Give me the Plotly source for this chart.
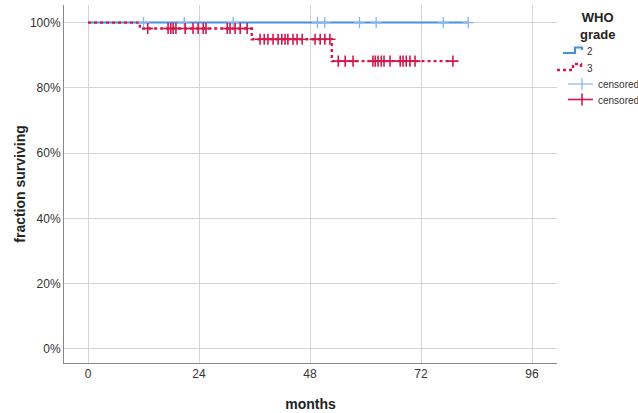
import numpy as np
import plotly.graph_objects as go

# Kaplan-Meier steps
g2_time = [0, 82.2]
g2_surv = [1.0, 1.0]
g2_censored = [12.0, 20.8, 31.4, 49.6, 51.2, 58.7, 62.3, 76.8, 82.2]

g3_time = [0, 11.2, 35.4, 52.7, 78.8]
g3_surv = [1.0, 0.982, 0.949, 0.882, 0.882]
g3_censored = [12.9, 17.3, 17.9, 18.4, 19.0, 21.0, 22.7, 23.8, 24.9, 25.5,
               30.1, 30.7, 31.8, 32.9, 34.4,
               37.2, 38.1, 38.9, 40.0, 41.1, 41.9, 42.6, 43.2, 44.3, 45.2,
               46.3, 49.1, 50.2, 51.2, 52.3,
               54.1, 55.6, 57.3, 61.6, 62.1, 62.7, 63.4, 64.0, 65.3, 67.5,
               68.1, 68.8, 69.6, 70.7, 78.9]

x_ticks = [0, 24, 48, 72, 96]
y_ticks = [0, 0.2, 0.4, 0.6, 0.8, 1.0]

legend_labels = ["2", "3", "censored", "censored"]

BLUE = "#4a8fdc"
BLUE_LIGHT = "#86b4ea"
RED = "#d4184c"

W, H = 638, 413
L, R, T, B = 64, 81, 5, 50
PW, PH = W - L - R, H - T - B


def step_value(times, surv, t):
    # value of the step function at time t
    idx = np.searchsorted(times, t, side="right") - 1
    return surv[idx]


def px(x, y):
    # pixel position -> paper coords (for the hand-made legend)
    return (x - L) / PW, 1 - (y - T) / PH


def path(points):
    pts = [px(x, y) for x, y in points]
    return "M" + " L".join(f"{a:.4f},{b:.4f}" for a, b in pts)


fig = go.Figure()

fig.add_trace(go.Scatter(x=g2_time, y=g2_surv, mode="lines", name="2",
                         line=dict(color=BLUE, width=2, shape="hv")))
fig.add_trace(go.Scatter(x=g3_time, y=g3_surv, mode="lines", name="3",
                         line=dict(color=RED, width=2.4, shape="hv", dash="dot")))
fig.add_trace(go.Scatter(
    x=g2_censored, y=[step_value(g2_time, g2_surv, t) for t in g2_censored],
    mode="markers", name="censored",
    marker=dict(symbol="cross-thin", size=8, line=dict(color=BLUE_LIGHT, width=1.3))))
fig.add_trace(go.Scatter(
    x=g3_censored, y=[step_value(g3_time, g3_surv, t) for t in g3_censored],
    mode="markers", name="censored",
    marker=dict(symbol="cross-thin", size=8, line=dict(color=RED, width=1.6))))

# legend drawn by hand (SPSS style step icons, tighter rows)
shapes = []
shapes.append(dict(type="path", xref="paper", yref="paper",
                   path=path([(563, 53), (575, 53), (575, 47.5), (582, 47.5), (582, 50)]),
                   line=dict(color=BLUE, width=2.2)))
shapes.append(dict(type="path", xref="paper", yref="paper",
                   path=path([(557, 70), (573, 70), (573, 64), (581, 64), (581, 67.5)]),
                   line=dict(color=RED, width=2.4, dash="dot")))
for cy, col, lw in [(84, BLUE_LIGHT, 1.2), (99.5, RED, 1.6)]:
    x0, y0 = px(568, cy)
    x1, y1 = px(593, cy)
    shapes.append(dict(type="line", xref="paper", yref="paper", x0=x0, y0=y0, x1=x1, y1=y1,
                       line=dict(color=col, width=lw)))
    x0, y0 = px(582, cy - 6)
    x1, y1 = px(582, cy + 6)
    shapes.append(dict(type="line", xref="paper", yref="paper", x0=x0, y0=y0, x1=x1, y1=y1,
                       line=dict(color=col, width=lw)))

annotations = []
tx, ty = px(597, 26)
annotations.append(dict(text="<b>WHO<br>grade</b>", xref="paper", yref="paper", x=tx, y=ty,
                        xanchor="center", yanchor="middle", showarrow=False,
                        font=dict(size=13, color="#222222")))
for lab, (lx, ly) in zip(legend_labels, [(585, 51.5), (585, 68), (596, 84.5), (596, 100)]):
    ax, ay = px(lx, ly)
    annotations.append(dict(text=lab, xref="paper", yref="paper", x=ax, y=ay,
                            xanchor="left", yanchor="middle", showarrow=False,
                            font=dict(size=10, color="#333333")))

fig.update_layout(
    width=W, height=H,
    margin=dict(l=L, r=R, t=T, b=B, autoexpand=False),
    plot_bgcolor="white", paper_bgcolor="white",
    font=dict(family="Liberation Sans, Arial, sans-serif", size=12, color="#333333"),
    showlegend=False,
    shapes=shapes,
    annotations=annotations,
)

fig.update_xaxes(
    range=[-5.2, 101.4], tickvals=x_ticks, ticks="", automargin=False,
    showgrid=True, gridcolor="#d4d4d4", gridwidth=1,
    showline=True, linecolor="#888888", linewidth=1, zeroline=False,
    title=dict(text="<b>months</b>", font=dict(size=14, color="#222222"), standoff=18),
    tickfont=dict(size=12, color="#333333"),
)
fig.update_yaxes(
    range=[-0.043, 1.054], tickvals=y_ticks, tickformat=".0%", ticks="", automargin=False,
    showgrid=True, gridcolor="#d4d4d4", gridwidth=1,
    showline=True, linecolor="#888888", linewidth=1, zeroline=False,
    title=dict(text="<b>fraction surviving</b>", font=dict(size=14, color="#222222"), standoff=0),
    tickfont=dict(size=12, color="#333333"),
)

# page default body margin would shift the figure by 8px
fig.write_html("out.html", config={"displayModeBar": False},
               post_script="document.body.style.margin='0';")
